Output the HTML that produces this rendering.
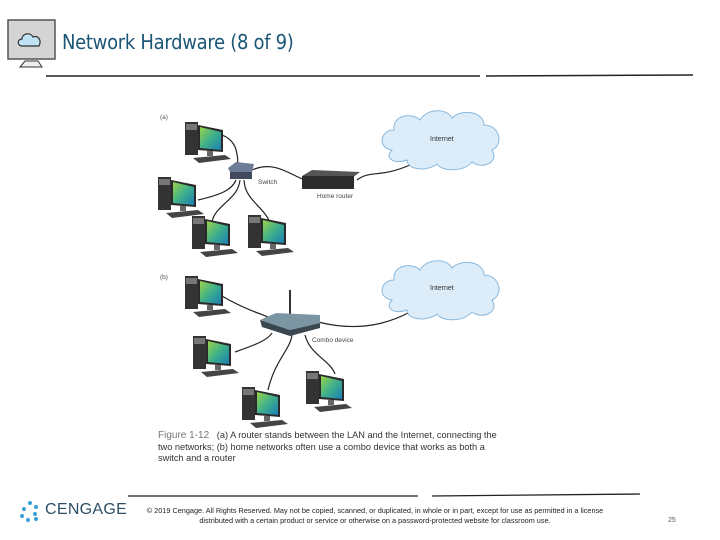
<!DOCTYPE html>
<html><head><meta charset="utf-8"><style>
body{margin:0;width:720px;height:540px;background:#fff;overflow:hidden;position:relative;font-family:"Liberation Sans",sans-serif}
.t{position:absolute;left:62px;top:30px;font-size:20px;color:#1b5676;font-family:"DejaVu Sans Condensed","Liberation Sans",sans-serif;letter-spacing:-0.3px}
.cap{position:absolute;left:158px;top:430px;font-size:9.2px;line-height:11.5px;color:#333;width:350px;font-family:"Liberation Sans Narrow","Liberation Sans",sans-serif}
.cap b{color:#777;font-weight:normal;font-size:10px}
.foot{position:absolute;left:140px;top:506px;width:470px;text-align:center;font-size:7.3px;line-height:10px;color:#222;font-family:"Liberation Sans Narrow","Liberation Sans",sans-serif}
.cg{position:absolute;left:45px;top:501px;font-size:16px;color:#2c4f66;letter-spacing:0.3px}
.pn{position:absolute;left:668px;top:517px;font-size:7px;color:#555}
</style></head><body>
<svg width="720" height="540" style="position:absolute;left:0;top:0">
<defs>
<linearGradient id="scr" x1="0" y1="0" x2="1" y2="1"><stop offset="0" stop-color="#9ad34a"/><stop offset="0.5" stop-color="#3fb08a"/><stop offset="1" stop-color="#1b7fb5"/></linearGradient>
<g id="pc">
<rect x="0" y="0" width="13" height="33" fill="#333"/><rect x="1" y="2" width="11" height="6" fill="#777"/>
<polygon points="13,3 38,8 38,30 13,28" fill="#2a2a2a"/><polygon points="15,5 36,10 36,28 15,26" fill="url(#scr)"/>
<rect x="22" y="29" width="6" height="5" fill="#666"/>
<polygon points="8,36 40,33 46,37 14,41" fill="#444"/>
</g>
<g id="cloud" fill="#dcedf9" stroke="#8ab8dd" stroke-width="1">
<path d="M-50,10 C-65,8 -62,-10 -48,-10 C-50,-25 -30,-28 -22,-20 C-15,-32 5,-32 10,-22 C20,-32 42,-28 42,-15 C58,-15 62,5 50,10 C58,22 40,30 30,22 C22,32 0,32 -5,24 C-15,32 -35,30 -35,20 C-48,25 -58,18 -50,10Z"/>
</g>
</defs>
<rect x="8" y="20" width="47" height="39" fill="#d4d4d4" stroke="#555" stroke-width="1.5"/>
<path d="M22,46 C17,46 17,39 22,39 C22,33 31,32 33,37 C38,35 42,40 39,46Z" fill="#bfe3f2" stroke="#333" stroke-width="1.2"/>
<path d="M20,67 L25,61 L38,61 L42,67Z" fill="#eee" stroke="#333"/>
<path d="M46,76 L480,76 M486,76 L693,75" stroke="#222" stroke-width="1.5"/>
<path d="M128,496 L418,496 M432,496 L640,494" stroke="#222" stroke-width="1.3"/>
<g fill="none" stroke="#222" stroke-width="1.2">
<path d="M222,135 C235,140 238,150 238,168"/><path d="M198,200 C220,195 232,190 236,180"/>
<path d="M212,222 C215,205 238,200 240,180"/><path d="M270,222 C262,205 245,200 244,180"/>
<path d="M252,170 C275,160 290,175 305,180"/><path d="M357,180 C370,170 380,178 410,165"/>
<path d="M222,296 C245,310 265,315 270,318"/><path d="M235,352 C255,345 268,340 272,333"/>
<path d="M268,390 C275,360 290,350 292,335"/><path d="M335,374 C330,360 310,355 305,335"/>
<path d="M318,322 C350,330 380,328 410,312"/>
</g>
<use href="#cloud" x="442" y="140"/><use href="#cloud" x="442" y="290"/>
<text x="430" y="141" font-size="7" fill="#333">Internet</text>
<text x="430" y="290" font-size="7" fill="#333">Internet</text>
<polygon points="228,168 236,162 254,164 252,172 232,176" fill="#6d7d96"/><rect x="230" y="172" width="22" height="7" fill="#3f4a5e"/>
<text x="258" y="184" font-size="6.5" fill="#444">Switch</text>
<polygon points="302,176 312,170 360,172 352,178" fill="#555"/><rect x="302" y="176" width="52" height="13" fill="#2c2c2c"/>
<text x="317" y="198" font-size="6.5" fill="#444">Home router</text>
<line x1="290" y1="290" x2="290" y2="314" stroke="#333" stroke-width="2"/>
<polygon points="260,320 276,313 320,315 320,323 290,330" fill="#7c95a3"/><polygon points="260,320 290,330 320,323 320,328 290,336 262,327" fill="#3a4650"/>
<text x="312" y="342" font-size="6.5" fill="#444">Combo device</text>
<text x="160" y="119" font-size="6.5" fill="#555">(a)</text>
<text x="160" y="279" font-size="6.5" fill="#555">(b)</text>
<use href="#pc" x="185" y="122"/><use href="#pc" x="158" y="177"/><use href="#pc" x="192" y="216"/><use href="#pc" x="248" y="215"/>
<use href="#pc" x="185" y="276"/><use href="#pc" x="193" y="336"/><use href="#pc" x="242" y="387"/><use href="#pc" x="306" y="371"/>
<g fill="#3aa0d8"><circle cx="30" cy="503" r="2"/><circle cx="36" cy="507" r="2"/><circle cx="24" cy="509" r="2"/><circle cx="35" cy="514" r="2"/><circle cx="22" cy="516" r="2"/><circle cx="28" cy="520" r="2"/><circle cx="36" cy="519" r="2"/></g>
</svg>
<div class="t">Network Hardware (8 of 9)</div>
<div class="cap"><b>Figure 1-12</b>&nbsp;&nbsp; (a) A router stands between the LAN and the Internet, connecting the two networks; (b) home networks often use a combo device that works as both a switch and a router</div>
<div class="cg">CENGAGE</div>
<div class="foot">© 2019 Cengage. All Rights Reserved. May not be copied, scanned, or duplicated, in whole or in part, except for use as permitted in a license distributed with a certain product or service or otherwise on a password-protected website for classroom use.</div>
<div class="pn">25</div>
</body></html>
